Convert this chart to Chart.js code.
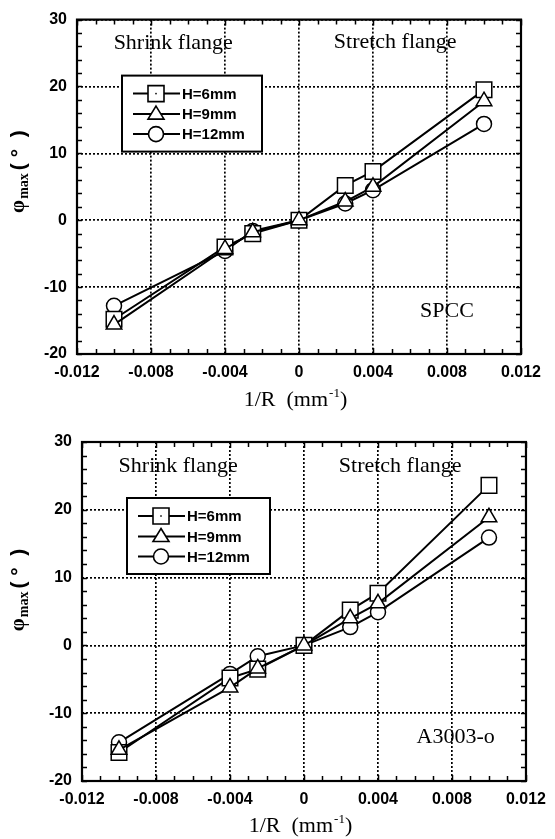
<!DOCTYPE html>
<html>
<head>
<meta charset="utf-8">
<script src="https://cdn.jsdelivr.net/npm/chart.js@4.4.0/dist/chart.umd.min.js"></script>
<style>
  html, body { margin: 0; padding: 0; background: #fff; }
  #wrap { position: relative; width: 555px; height: 839px; }
  canvas { position: absolute; left: 0; }
</style>
</head>
<body>
<div id="wrap">
  <canvas id="spcc" width="555" height="420" style="top:0"></canvas>
  <canvas id="a3003" width="555" height="419" style="top:420px"></canvas>
</div>
<script>
// 1/R values (mm^-1)
const invR = [-0.01, -0.004, -0.0025, 0, 0.0025, 0.004, 0.01];

// SPCC, phi max (deg)
const spccH6 = [-14.8, -4.0, -2.0, 0, 5.2, 7.3, 19.5];
const spccH9 = [-15.6, -4.3, -1.8, 0, 2.8, 5.0, 17.8];
const spccH12 = [-12.8, -4.6, -1.6, 0, 2.5, 4.5, 14.4];

// A3003-O, phi max (deg)
const alH6 = [-15.8, -4.8, -3.5, 0, 5.2, 7.7, 23.6];
const alH9 = [-15.4, -6.2, -3.4, 0, 4.0, 6.2, 18.9];
const alH12 = [-14.3, -4.2, -1.6, 0, 2.7, 4.9, 15.9];

const seriesNames = ['H=6mm', 'H=9mm', 'H=12mm'];
const xTicks = [-0.012, -0.008, -0.004, 0, 0.004, 0.008, 0.012];
const xTickLabels = ['-0.012', '-0.008', '-0.004', '0', '0.004', '0.008', '0.012'];
const yTicks = [-20, -10, 0, 10, 20, 30];
const yTickLabels = ['-20', '-10', '0', '10', '20', '30'];

const markers = ['rect', 'triangle', 'circle'];
const markerSize = [11, 9, 7.5];
const drawOrder = [2, 1, 3]; // circle under, triangle on top

function toPoints(ys) {
    return invR.map((x, i) => ({ x: x, y: ys[i] }));
}

// frame, inward ticks, titles, legend and notes
const decor = {
    id: 'decor',
    beforeDatasetsDraw(chart, args, opts) {
        const ctx = chart.ctx;
        const a = chart.chartArea;
        const xs = chart.scales.x, ys = chart.scales.y;
        ctx.save();
        ctx.strokeStyle = '#000';
        ctx.lineWidth = 1.5;
        ctx.beginPath();
        for (let v = -12; v <= 12; v++) {
            const px = Math.round(xs.getPixelForValue(v / 1000)) + 0.5;
            const len = (v % 4 === 0) ? 6 : 5;
            ctx.moveTo(px, a.bottom); ctx.lineTo(px, a.bottom - len);
            ctx.moveTo(px, a.top); ctx.lineTo(px, a.top + len);
        }
        for (let v = -20; v <= 30; v += 2) {
            const py = Math.round(ys.getPixelForValue(v)) + 0.5;
            ctx.moveTo(a.left, py); ctx.lineTo(a.left + 5, py);
            ctx.moveTo(a.right, py); ctx.lineTo(a.right - 5, py);
        }
        ctx.stroke();
        ctx.lineWidth = 2.2;
        ctx.strokeRect(a.left, a.top, a.right - a.left, a.bottom - a.top);
        ctx.restore();
    },
    afterDraw(chart, args, opts) {
        const ctx = chart.ctx;
        const a = chart.chartArea;
        const xs = chart.scales.x, ys = chart.scales.y;
        ctx.save();
        ctx.fillStyle = '#000';
        ctx.strokeStyle = '#000';

        // notes in the plot
        ctx.font = '22px "Liberation Serif", "Times New Roman", serif';
        ctx.textAlign = 'center';
        ctx.textBaseline = 'middle';
        opts.notes.forEach(n => {
            ctx.fillText(n.text, xs.getPixelForValue(n.x), ys.getPixelForValue(n.y));
        });

        // x title: 1/R (mm-1)
        const tx = xs.getPixelForValue(0) - 4;
        const ty = a.bottom + opts.xTitleOffset;
        const big = '22px "Liberation Serif", serif';
        const small = '13px "Liberation Serif", serif';
        ctx.font = big;
        const p1 = '1/R  (mm', p3 = ')';
        ctx.font = small;
        const w2 = ctx.measureText('-1').width;
        ctx.font = big;
        const w1 = ctx.measureText(p1).width, w3 = ctx.measureText(p3).width;
        let sx = tx - (w1 + w2 + w3) / 2;
        ctx.textAlign = 'left';
        ctx.fillText(p1, sx, ty);
        ctx.font = small;
        ctx.fillText('-1', sx + w1 + 1, ty - 6);
        ctx.font = big;
        ctx.fillText(p3, sx + w1 + w2 + 1, ty);

        // y title: phi max (deg), rotated
        ctx.save();
        ctx.translate(19, a.top + opts.yTitleCenter);
        ctx.rotate(-Math.PI / 2);
        ctx.textAlign = 'left';
        ctx.textBaseline = 'middle';
        const fPhi = 'bold 21px "Liberation Serif", serif';
        const fMax = 'bold 14px "Liberation Serif", serif';
        const fDeg = 'bold 21px "Liberation Sans", sans-serif';
        ctx.font = fPhi; const wa = ctx.measureText('φ').width;
        ctx.font = fMax; const wb = ctx.measureText('max').width;
        ctx.font = fDeg; const wc = ctx.measureText('( °  )').width;
        let ox = -(wa + wb + wc + 4) / 2;
        ctx.font = fPhi; ctx.fillText('φ', ox, 0);
        ctx.font = fMax; ctx.fillText('max', ox + wa + 1, 5);
        ctx.font = fDeg; ctx.fillText('( °  )', ox + wa + wb + 4, 0);
        ctx.restore();

        // legend box
        const lx = a.left + 45, ly = a.top + 56, lw = opts.legendW, lh = 76;
        ctx.fillStyle = '#fff';
        ctx.fillRect(lx, ly, lw, lh);
        ctx.lineWidth = 2;
        ctx.strokeRect(lx, ly, lw, lh);
        ctx.fillStyle = '#000';
        ctx.font = 'bold 15px "Liberation Sans", Arial, sans-serif';
        ctx.textAlign = 'left';
        ctx.textBaseline = 'middle';
        const rows = [18, 38.5, 58.5];
        seriesNames.forEach((name, i) => {
            const ry = ly + rows[i];
            ctx.lineWidth = 2;
            ctx.beginPath();
            ctx.moveTo(lx + 11, ry); ctx.lineTo(lx + 58, ry);
            ctx.stroke();
            const cx = lx + 34;
            ctx.lineWidth = 1.6;
            ctx.fillStyle = '#fff';
            ctx.beginPath();
            if (i === 0) {
                ctx.rect(cx - 8, ry - 8, 16, 16);
            } else if (i === 1) {
                ctx.moveTo(cx, ry - 8); ctx.lineTo(cx + 8, ry + 5); ctx.lineTo(cx - 8, ry + 5); ctx.closePath();
            } else {
                ctx.arc(cx, ry, 7.5, 0, Math.PI * 2);
            }
            ctx.fill();
            ctx.stroke();
            ctx.fillStyle = '#000';
            if (i === 0) ctx.fillRect(cx - 0.75, ry - 0.75, 1.5, 1.5);
            ctx.fillText(name, lx + 60, ry + 1);
        });
        ctx.restore();
    }
};

function makeChart(id, data, pad, yWidth, xHeight, extra) {
    const datasets = data.map((ys, i) => ({
        label: seriesNames[i],
        data: toPoints(ys),
        borderColor: '#000',
        borderWidth: 2,
        backgroundColor: '#fff',
        pointStyle: markers[i],
        pointRadius: markerSize[i],
        pointBackgroundColor: '#fff',
        pointBorderColor: '#000',
        pointBorderWidth: 1.5,
        order: drawOrder[i],
        tension: 0
    }));
    const tickFont = { family: '"Liberation Sans", Arial, sans-serif', size: 16, weight: 'bold' };
    return new Chart(document.getElementById(id), {
        type: 'line',
        data: { datasets: datasets },
        plugins: [decor],
        options: {
            responsive: false,
            animation: false,
            events: [],
            layout: { padding: pad },
            plugins: {
                legend: { display: false },
                tooltip: { enabled: false },
                decor: extra
            },
            scales: {
                x: {
                    type: 'linear',
                    min: -0.012,
                    max: 0.012,
                    afterBuildTicks: s => { s.ticks = xTicks.map(v => ({ value: v })); },
                    afterFit: s => { s.height = xHeight; },
                    ticks: {
                        color: '#000',
                        font: tickFont,
                        padding: 9,
                        maxRotation: 0,
                        autoSkip: false,
                        callback: (v, i) => xTickLabels[i]
                    },
                    grid: { color: '#000', lineWidth: 1.7, drawTicks: false },
                    border: { display: false, dash: [2, 2] }
                },
                y: {
                    type: 'linear',
                    min: -20,
                    max: 30,
                    afterBuildTicks: s => { s.ticks = yTicks.map(v => ({ value: v })); },
                    afterFit: s => { s.width = yWidth; },
                    ticks: {
                        color: '#000',
                        font: tickFont,
                        padding: 10,
                        autoSkip: false,
                        callback: (v, i) => yTickLabels[i]
                    },
                    grid: { color: '#000', lineWidth: 1.7, drawTicks: false },
                    border: { display: false, dash: [2, 2] }
                }
            }
        }
    });
}

makeChart('spcc', [spccH6, spccH9, spccH12],
    { top: 14, right: 34, left: 0, bottom: 0 }, 77, 66, {
        notes: [
            { text: 'Shrink flange', x: -0.0068, y: 26.4 },
            { text: 'Stretch flange', x: 0.0052, y: 26.6 },
            { text: 'SPCC', x: 0.0080, y: -13.6 }
        ],
        xTitleOffset: 46,
        yTitleCenter: 152,
        legendW: 140
    });

makeChart('a3003', [alH6, alH9, alH12],
    { top: 22, right: 24, left: 0, bottom: 0 }, 82, 58, {
        notes: [
            { text: 'Shrink flange', x: -0.0068, y: 26.4 },
            { text: 'Stretch flange', x: 0.0052, y: 26.4 },
            { text: 'A3003-o', x: 0.0082, y: -13.6 }
        ],
        xTitleOffset: 45,
        yTitleCenter: 148,
        legendW: 143
    });
</script>
</body>
</html>
